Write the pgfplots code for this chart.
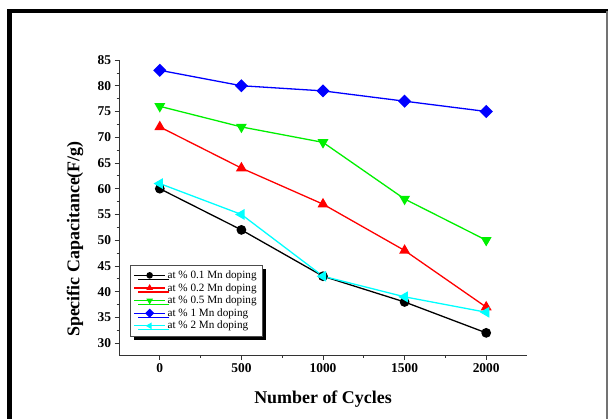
\documentclass[border=0pt]{standalone}
\usepackage{pgfplots}
\pgfplotsset{compat=1.18}
\usepackage{fontspec}
\setmainfont{Liberation Serif}
\usetikzlibrary{shadows}
\definecolor{mycyan}{RGB}{0,255,255}
\definecolor{mygreen}{RGB}{0,240,0}
\definecolor{myblue}{RGB}{0,0,255}
\definecolor{myred}{RGB}{255,0,0}
\begin{document}
\begin{tikzpicture}
\useasboundingbox (0,0) rectangle (608bp,419bp);
\fill[white] (0,0) rectangle (608bp,419bp);
% outer frame
\draw[line width=5bp,black] (9.5bp,0) -- (9.5bp,408bp);
\draw[line width=3.5bp,black] (7bp,408bp) -- (608bp,408bp);
\draw[line width=1.5bp,black!55] (606.8bp,0) -- (606.8bp,408bp);
\begin{axis}[
  at={(119bp,64bp)}, anchor=south west,
  scale only axis, width=408bp, height=295bp,
  xmin=-250, xmax=2250, ymin=27.7, ymax=85,
  axis x line*=bottom, axis y line*=left,
  axis line style={-, line width=0.8bp, black!80},
  xtick={0,500,1000,1500,2000},
  ytick={30,35,...,85},
  minor x tick num=1, minor y tick num=1,
  tick align=outside,
  major tick length=4.5bp, minor tick length=2.5bp,
  tick style={black!80, line width=0.7bp},
  /pgf/number format/assume math mode=true,
  /pgf/number format/set thousands separator={},
  ticklabel style={font=\bfseries\fontsize{13.5}{13.5}\selectfont},
  xticklabel style={yshift=-1bp},
  xlabel={Number of Cycles},
  ylabel={Specific Capacitance(F/g)},
  label style={font=\bfseries\fontsize{18}{18}\selectfont},
  xlabel style={at={(axis description cs:0.5,-0.148)}, anchor=center},
  ylabel style={at={(axis description cs:-0.108,0.393)}, anchor=center, rotate=0},
  legend cell align=left,
  legend style={at={(axis description cs:0.027,0.305)}, anchor=north west,
    font=\fontsize{11.2}{11.2}\selectfont, draw=black!70, fill=white,
    row sep=-0.6bp, inner sep=3.5bp,
    nodes={inner xsep=2bp},
    drop shadow={shadow xshift=4bp, shadow yshift=-4bp, fill=black, opacity=1}},
  legend image code/.code={\draw[#1, mark size=2.6bp, mark repeat=2, mark phase=2] plot coordinates {(0cm,0cm) (0.54cm,0cm) (1.08cm,0cm)};},
  every axis plot/.append style={line width=1.3bp},
  clip=false,
]
\addplot[black, mark=*, mark size=4.2bp] coordinates {(0,60) (500,52) (1000,43) (1500,38) (2000,32)};
\addlegendentry{at \% 0.1 Mn doping}
\addplot[myred, mark=triangle*, mark size=5bp] coordinates {(0,72) (500,64) (1000,57) (1500,48) (2000,37)};
\addlegendentry{at \% 0.2 Mn doping}
\addplot[mygreen, mark=triangle*, mark size=5bp, mark options={rotate=180}] coordinates {(0,76) (500,72) (1000,69) (1500,58) (2000,50)};
\addlegendentry{at \% 0.5 Mn doping}
\addplot[myblue, mark=square*, mark size=4bp, mark options={rotate=45}] coordinates {(0,83) (500,80) (1000,79) (1500,77) (2000,75)};
\addlegendentry{at \% 1 Mn doping}
\addplot[mycyan, mark=triangle*, mark size=5bp, mark options={rotate=90}] coordinates {(0,61) (500,55) (1000,43) (1500,39) (2000,36)};
\addlegendentry{at \% 2 Mn doping}
\end{axis}
\end{tikzpicture}
\end{document}
